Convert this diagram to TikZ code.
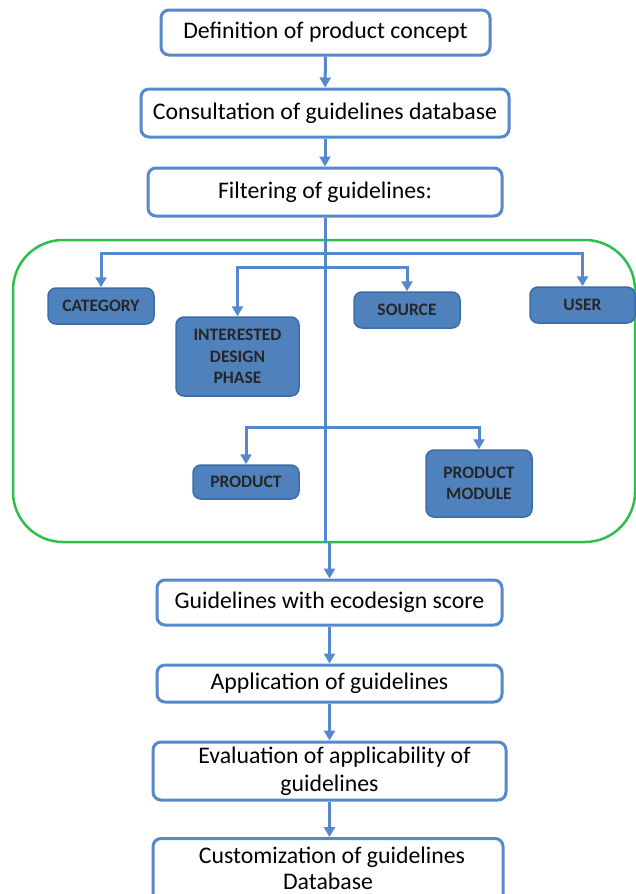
\documentclass[tikz,border=0pt]{standalone}
\usepackage{fontspec}
\setmainfont{Carlito}
\usetikzlibrary{arrows.meta}
\definecolor{flowblue}{HTML}{4F81BD}
\definecolor{edgeblue}{HTML}{3B6CA8}
\definecolor{linkblue}{HTML}{5588CC}
\definecolor{groupgreen}{HTML}{2EBE4C}
\tikzset{
  stepfont/.style={font=\fontsize{23.8}{28}\selectfont},
  stepbox/.style={draw=linkblue, line width=3pt, rounded corners=8pt, fill=white,
    align=center, inner sep=2pt, stepfont},
  filterbox/.style={draw=edgeblue, line width=1.5pt, rounded corners=8pt, fill=flowblue,
    align=center, inner sep=2pt, font=\fontsize{17.5}{21.5}\selectfont\bfseries, text=black!85},
  link/.style={draw=linkblue, line width=3pt},
  arr/.style={link, -{Triangle[length=10pt,width=11pt]}},
}
\begin{document}
\begin{tikzpicture}[x=1pt,y=-1pt]
\useasboundingbox (0,0) rectangle (636,894);

% main process steps
\node[stepbox, minimum width=329, minimum height=45] (def) at (325.5,32.5) {Definition of product concept};
\node[stepbox, minimum width=368, minimum height=48] (cons) at (325,113) {Consultation of guidelines database};
\node[stepbox, minimum width=354, minimum height=48] (filt) at (325,192) {Filtering of guidelines:};

% group of filter criteria
\node[draw=groupgreen, line width=2.5pt, rounded corners=50pt, minimum width=622, minimum height=302] (grp) at (324,391) {};

\node[filterbox, minimum width=106, minimum height=36] (cat) at (101,306) {CATEGORY};
\node[filterbox, minimum width=123, minimum height=79] (phase) at (237.5,356.5) {INTERESTED\\DESIGN\\PHASE};
\node[filterbox, minimum width=106, minimum height=36] (src) at (407,310) {SOURCE};
\node[filterbox, minimum width=105, minimum height=36] (user) at (582.5,305) {USER};
\node[filterbox, minimum width=106, minimum height=34] (prod) at (246,482) {PRODUCT};
\node[filterbox, minimum width=106, minimum height=67] (mod) at (479,483.5) {PRODUCT\\MODULE};

% later steps
\node[stepbox, minimum width=345, minimum height=45] (score) at (329.5,602.5) {Guidelines with ecodesign score};
\node[stepbox, minimum width=345, minimum height=37] (appl) at (329.5,683.5) {Application of guidelines};
\node[stepbox, minimum width=353, minimum height=58] (eval) at (329.5,771) {\hspace*{10pt}Evaluation of applicability of\\guidelines};
% last step runs past the lower edge; its text sits in the visible part
\node[stepbox, minimum width=350, minimum height=72, anchor=north] (cust) at (328,837) {};
\node[stepfont, align=center, font=\fontsize{23.8}{26}\selectfont] (custtext) at (328,868) {\hspace*{8pt}Customization of guidelines\\Database};

% branching points on the trunk
\coordinate (b1) at (325,253);
\coordinate (b2) at (325,267);
\coordinate (b3) at (325,427);

% connectors
\draw[arr] (def) -- (cons);
\draw[arr] (cons) -- (filt);
\draw[link] (filt.south) -- (filt.south |- grp.south);
\draw[arr] (b1) -| (cat.north);
\draw[arr] (b1) -| (user.north);
\draw[arr] (b2) -| (phase.north);
\draw[arr] (b2) -| (src.north);
\draw[arr] (b3) -| (prod.north);
\draw[arr] (b3) -| (mod.north);
\draw[arr] (score.north |- grp.south) -- (score.north);
\draw[arr] (score) -- (appl);
\draw[arr] (appl) -- (appl.south |- eval.north);
\draw[arr] (eval.south -| appl.south) -- (cust.north -| appl.south);
\end{tikzpicture}
\end{document}
